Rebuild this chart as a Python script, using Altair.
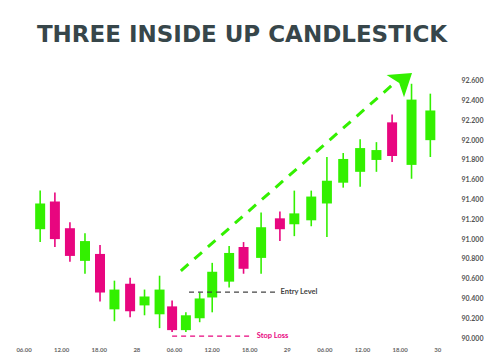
import altair as alt
import pandas as pd

# candle times in hours from 00:00 of day 27
times = [8.65, 11.0, 13.4, 15.8, 18.2, 20.5, 23.0, 25.3, 27.7, 29.7, 31.9, 34.1, 36.1,
         38.8, 41.1, 43.9, 46.9, 49.2, 51.9, 54.4, 57.0, 59.7, 62.3, 64.8, 67.9, 70.9]
opens = [91.10, 91.38, 91.11, 90.78, 90.85, 90.29, 90.55, 90.33, 90.24, 90.32, 90.08, 90.20, 90.41,
         90.57, 90.92, 90.81, 91.21, 91.15, 91.19, 91.36, 91.57, 91.68, 91.80, 92.18, 91.75, 92.00]
closes = [91.36, 91.00, 90.83, 90.98, 90.46, 90.49, 90.27, 90.42, 90.49, 90.08, 90.23, 90.40, 90.67,
          90.86, 90.70, 91.12, 91.10, 91.26, 91.43, 91.59, 91.81, 91.92, 91.90, 91.84, 92.41, 92.30]
highs = [91.49, 91.47, 91.17, 91.06, 90.94, 90.58, 90.61, 90.49, 90.63, 90.38, 90.26, 90.46, 90.76,
         90.93, 90.97, 91.27, 91.28, 91.49, 91.49, 91.83, 91.87, 92.01, 91.98, 92.26, 92.57, 92.47]
lows = [90.97, 90.92, 90.77, 90.65, 90.37, 90.17, 90.21, 90.23, 90.10, 90.06, 90.06, 90.16, 90.26,
        90.51, 90.65, 90.65, 90.98, 91.03, 91.13, 91.02, 91.52, 91.53, 91.68, 91.78, 91.61, 91.83]

x_ticks = [6, 12, 18, 24, 30, 36, 42, 48, 54, 60, 66, 72]
x_labels = ["06.00", "12.00", "18.00", "28", "06.00", "12.00", "18.00", "29",
            "06.00", "12.00", "18.00", "30"]
y_ticks = [90.0, 90.2, 90.4, 90.6, 90.8, 91.0, 91.2, 91.4, 91.6, 91.8, 92.0, 92.2, 92.4, 92.6]

entry_level = 90.465
entry_span = [32.4, 46.2]
stop_loss = 90.02
stop_span = [29.7, 42.4]
arrow_start = [31.1, 90.68]
arrow_end = [65.4, 92.59]
arrow_head = [66.2, 92.59]

GREEN = "#33f000"
PINK = "#e8067f"
GRAY = "#444444"

df = pd.DataFrame({"t": times, "open": opens, "close": closes, "high": highs, "low": lows})
df["dir"] = ["up" if c >= o else "down" for o, c in zip(opens, closes)]

X_DOM = [3.04, 73.24]
Y_DOM = [89.96, 92.79]
xs = alt.Scale(domain=X_DOM, nice=False, zero=False)
ys = alt.Scale(domain=Y_DOM, nice=False, zero=False)

label_expr = "[" + ",".join(f"'{l}'" for l in x_labels) + "][indexof(" + str(x_ticks) + ", datum.value)]"

X_AXIS = alt.Axis(values=x_ticks, labelExpr=label_expr, title=None, domain=False, ticks=False,
                  grid=False, labelFontSize=6, labelColor="#666666", labelPadding=4, labelFont="Lato",
                  labelFontWeight="bold", labelOverlap=False)
Y_AXIS = alt.Axis(values=y_ticks, format=".3f", orient="right", title=None, domain=False, ticks=False,
                  grid=False, labelFontSize=7, labelColor="#555555", labelPadding=11,
                  labelAlign="left", labelFont="Lato", labelFontWeight="bold", labelOverlap=False)

color = alt.Color("dir:N", scale=alt.Scale(domain=["up", "down"], range=[GREEN, PINK]), legend=None)


def X(f):
    return alt.X(f, scale=xs, axis=X_AXIS)


def Y(f):
    return alt.Y(f, scale=ys, axis=Y_AXIS)


base = alt.Chart(df)
wicks = base.mark_rule(strokeWidth=1.6).encode(
    x=X("t:Q"), y=Y("low:Q"), y2="high:Q", color=color)
bodies = base.mark_bar(size=10).encode(
    x=X("t:Q"), y=Y("open:Q"), y2="close:Q", color=color)

entry_df = pd.DataFrame({"x": [entry_span[0]], "x2": [entry_span[1]], "y": [entry_level],
                         "tx": [entry_span[1] + 0.8], "label": ["Entry Level"]})
stop_df = pd.DataFrame({"x": [stop_span[0]], "x2": [stop_span[1]], "y": [stop_loss],
                        "tx": [stop_span[1] + 0.8], "label": ["Stop Loss"]})


def level(d, col):
    ln = alt.Chart(d).mark_rule(strokeDash=[5, 4], strokeWidth=1.2, color=col).encode(
        x=X("x:Q"), x2="x2:Q", y=Y("y:Q"))
    tx = alt.Chart(d).mark_text(align="left", baseline="middle", fontSize=7.5, font="Lato",
                                fontWeight="bold", color=col).encode(
        x=X("tx:Q"), y=Y("y:Q"), text="label:N")
    return [ln, tx]


arrow_df = pd.DataFrame({"x": [arrow_start[0], arrow_end[0]], "y": [arrow_start[1], arrow_end[1]]})
arrow_line = alt.Chart(arrow_df).mark_line(color=GREEN, strokeWidth=3, strokeDash=[10, 8]).encode(
    x=X("x:Q"), y=Y("y:Q"))
head_df = pd.DataFrame({"x": [arrow_head[0]], "y": [arrow_head[1]]})
arrow_head_mark = alt.Chart(head_df).mark_point(
    shape="M0,-1 L1,0.5 L0,0.15 L-1,0.5 Z", filled=True, size=800, angle=52, color=GREEN, opacity=1
).encode(x=X("x:Q"), y=Y("y:Q"))

chart = alt.layer(wicks, bodies, *level(entry_df, GRAY), *level(stop_df, PINK),
                  arrow_line, arrow_head_mark).properties(
    width=450, height=280,
    autosize=alt.AutoSizeParams(type="none"),
    padding={"left": 0, "top": 62, "right": 50, "bottom": 15},
    background="white",
    title=alt.TitleParams("THREE INSIDE UP CANDLESTICK", anchor="middle", fontSize=23,
                          font="DejaVu Sans", fontWeight="bold", color="#37464a", dx=17, offset=15),
).configure_view(strokeWidth=0, stroke=None)

chart.save("out.html", embed_options={"renderer": "svg", "actions": False})
